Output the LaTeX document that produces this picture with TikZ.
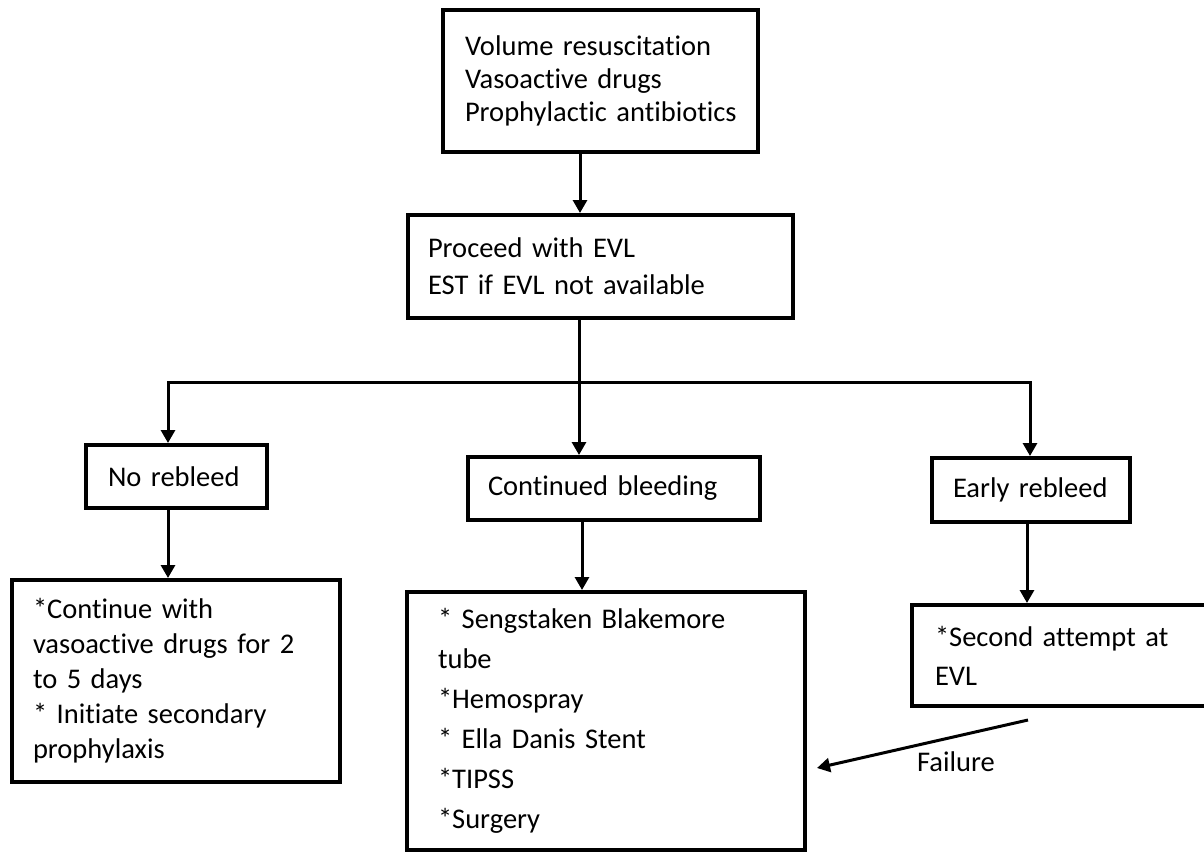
\documentclass[tikz,border=0pt]{standalone}
\usepackage{fontspec}
\setmainfont{Carlito}[Ligatures=NoCommon]
\usetikzlibrary{arrows.meta}
\tikzset{
  box/.style={draw, line width=4pt, rectangle, align=left, anchor=center,
    inner ysep=0pt, font=\fontsize{28.5}{35}\selectfont},
  arr/.style={line width=3pt, -{Triangle[width=14pt,length=13pt]}},
  lbl/.style={font=\fontsize{28.5}{34}\selectfont, inner sep=0pt}
}
\newcommand\Ln[1]{\mbox{#1}}
\begin{document}
\begin{tikzpicture}[x=1pt,y=-1pt]
\useasboundingbox (0,0) rectangle (1204,854);
\clip (0,0) rectangle (1204,854);
% boxes
\node[box, minimum width=315pt, minimum height=142pt, text width=271pt, inner xsep=22pt,
  font=\fontsize{28.5}{33}\selectfont] (b1) at (600.5,81)
  {\Ln{Volume resuscitation}\\\Ln{Vasoactive drugs}\\\Ln{Prophylactic antibiotics}};
\node[box, minimum width=385pt, minimum height=103pt, text width=345pt, inner xsep=20pt,
  font=\fontsize{28.5}{37}\selectfont] (b2) at (600.5,266.5)
  {\Ln{Proceed with EVL}\\\Ln{EST if EVL not available}};
\node[box, minimum width=181pt, minimum height=63pt, text width=137pt, inner xsep=22pt] (nr) at (176.5,476.5)
  {\Ln{No rebleed}};
\node[box, minimum width=292pt, minimum height=63pt, text width=252pt, inner xsep=20pt] (cb) at (614,488.5)
  {\Ln{Continued bleeding}};
\node[box, minimum width=198pt, minimum height=64pt, text width=156pt, inner xsep=21pt] (er) at (1031,490)
  {\Ln{Early rebleed}};
\node[box, minimum width=328pt, minimum height=202pt, text width=286pt, inner xsep=21pt,
  font=\fontsize{28.5}{35}\selectfont] (lb) at (176,681)
  {\Ln{*Continue with}\\\Ln{vasoactive drugs for 2}\\\Ln{to 5 days}\\\Ln{* Initiate secondary}\\\Ln{prophylaxis}};
\node[box, minimum width=398pt, minimum height=258pt, text width=336pt, inner xsep=31pt,
  font=\fontsize{28.5}{40}\selectfont] (cg) at (606,721)
  {\Ln{* Sengstaken Blakemore}\\\Ln{tube}\\\Ln{*Hemospray}\\\Ln{* Ella Danis Stent}\\\Ln{*TIPSS}\\\Ln{*Surgery}};
\node[box, minimum width=303pt, minimum height=101pt, text width=257pt, inner xsep=23pt,
  font=\fontsize{28.5}{39}\selectfont] (rb) at (1063.5,655.5)
  {\Ln{*Second attempt at}\\\Ln{EVL}};
% connectors
\draw[arr] ([xshift=-20.5pt]b1.south) -- ([xshift=-20.5pt]b1.south |- b2.north);
\coordinate (j) at (579,382);
\draw[line width=3pt] (b2.south -| j) -- (j);
\draw[arr] (j) -| ([xshift=-8.5pt]nr.north);
\draw[arr] (j) -- (j |- cb.north);
\draw[arr] (j) -| ([xshift=-1pt]er.north);
\draw[arr] ([xshift=-8.5pt]nr.south) -- ([xshift=-8.5pt]nr.south |- lb.north);
\draw[arr] ([xshift=-32pt]cb.south) -- ([xshift=-32pt]cb.south |- cg.north);
\draw[arr] ([xshift=-4pt]er.south) -- ([xshift=-4pt]er.south |- rb.north);
\coordinate (fs) at (1028,720);
\coordinate (fe) at (817,768);
\draw[arr] (fs) -- (fe);
\node[lbl] (fl) at (956,762) {Failure};
\end{tikzpicture}
\end{document}
